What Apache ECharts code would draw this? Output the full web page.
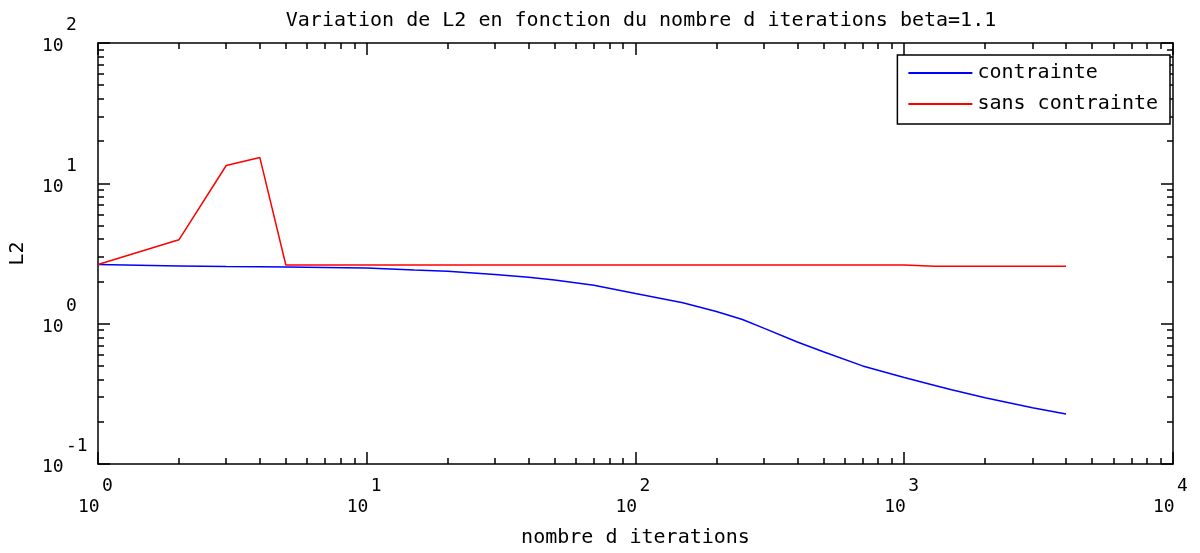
<!DOCTYPE html>
<html>
<head>
<meta charset="utf-8">
<script src="https://cdn.jsdelivr.net/npm/echarts@6/dist/echarts.min.js"></script>
<style>
  html, body { margin: 0; padding: 0; background: #fff; }
  #chart { width: 1200px; height: 553px; }
</style>
</head>
<body>
<div id="chart"></div>
<script>
// values (log-log plot)
const iterations = [1, 2, 3, 4, 5, 7, 10, 15, 20, 30, 40, 50, 70, 100, 150, 200, 250, 300, 400, 500, 700, 1000, 1300, 1500, 2000, 3000, 4000];
const l2Contrainte = [2.64, 2.58, 2.55, 2.54, 2.53, 2.51, 2.49, 2.41, 2.36, 2.24, 2.14, 2.05, 1.88, 1.64, 1.41, 1.22, 1.07, 0.93, 0.74, 0.63, 0.50, 0.414, 0.363, 0.338, 0.297, 0.252, 0.227];
const l2SansContrainte = [2.64, 3.96, 13.4, 15.3, 2.62, 2.62, 2.62, 2.62, 2.62, 2.62, 2.62, 2.62, 2.62, 2.62, 2.62, 2.62, 2.62, 2.62, 2.62, 2.62, 2.62, 2.62, 2.57, 2.57, 2.57, 2.57, 2.57];
const seriesNames = ['contrainte', 'sans contrainte'];
const seriesColors = ['#0000ff', '#ff0000'];

const FONT = 'DejaVu Sans Mono';

// minor tick positions in log10 units (2..9 in each decade)
function minorTicks(fromDecade, toDecade) {
  const out = [];
  for (let d = fromDecade; d < toDecade; d++) {
    for (let k = 2; k <= 9; k++) out.push(d + Math.log10(k));
  }
  return out;
}

const chartEntry = document.getElementById('chart');
const chart = echarts.init(chartEntry);

const tickStyle = { color: '#000', width: 1.5 };
const lineStyle = { color: '#000', width: 1.5 };

function majorLogAxis(pos, min, max) {
  return {
    type: 'log',
    logBase: 10,
    position: pos,
    min: min,
    max: max,
    interval: 1,
    axisLine: { show: true, onZero: false, lineStyle: lineStyle },
    axisTick: { show: true, inside: true, length: 12, lineStyle: tickStyle },
    splitLine: { show: false },
    minorTick: { show: false },
    axisLabel: { show: false }
  };
}

function minorValueAxis(pos, min, max) {
  return {
    type: 'value',
    position: pos,
    min: min,
    max: max,
    axisLine: { show: false, onZero: false },
    axisTick: { show: true, inside: true, length: 6, lineStyle: tickStyle, customValues: minorTicks(min, max) },
    splitLine: { show: false },
    axisLabel: { show: false }
  };
}

const xMain = majorLogAxis('bottom', 1, 10000);
xMain.name = 'nombre d iterations';
xMain.nameLocation = 'middle';
xMain.nameGap = 64;
xMain.nameMoveOverlap = false;
xMain.nameTextStyle = { fontFamily: FONT, fontSize: 20, color: '#000' };
xMain.axisLabel = {
  show: true,
  showMinLabel: true,
  showMaxLabel: true,
  margin: 12,
  color: '#000',
  formatter: (v) => '{e|' + Math.round(Math.log10(v)) + '}\n{b|10}',
  rich: {
    e: { fontFamily: FONT, fontSize: 18, color: '#000', lineHeight: 21, padding: [0, 9.2, 0, 28] },
    b: { fontFamily: FONT, fontSize: 18, color: '#000', lineHeight: 21, padding: [0, 22.3, 0, 4] }
  }
};

const yMain = majorLogAxis('left', 0.1, 100);
yMain.name = 'L2';
yMain.nameLocation = 'middle';
yMain.nameGap = 70;
yMain.nameMoveOverlap = false;
yMain.nameTextStyle = { fontFamily: FONT, fontSize: 20, color: '#000' };
yMain.axisLabel = {
  show: true,
  showMinLabel: true,
  showMaxLabel: true,
  margin: 8,
  padding: [0, 0, 14, 0],
  color: '#000',
  formatter: (v) => {
    const e = String(Math.round(Math.log10(v)));
    return '{' + (e.length > 1 ? 'e2' : 'e1') + '|' + e + '}\n{b|10}';
  },
  rich: {
    e1: { fontFamily: FONT, fontSize: 18, color: '#000', lineHeight: 21, padding: [0, 13.2, 0, 24] },
    e2: { fontFamily: FONT, fontSize: 18, color: '#000', lineHeight: 21, padding: [0, 2.3, 0, 24] },
    b: { fontFamily: FONT, fontSize: 18, color: '#000', lineHeight: 21, padding: [0, 26.3, 0, 0] }
  }
};

const chartOptions = {
  animation: false,
  backgroundColor: '#fff',
  title: {
    text: 'Variation de L2 en fonction du nombre d iterations beta=1.1',
    left: 636,
    textAlign: 'center',
    top: 6,
    textStyle: { fontFamily: FONT, fontSize: 20, fontWeight: 'normal', color: '#000' }
  },
  legend: {
    data: seriesNames,
    orient: 'vertical',
    right: 30,
    top: 55,
    padding: [8, 12, 10, 11],
    icon: 'rect',
    itemWidth: 64,
    itemHeight: 2,
    itemGap: 11,
    backgroundColor: '#fff',
    borderColor: '#000',
    borderWidth: 1.5,
    borderRadius: 0,
    textStyle: { fontFamily: FONT, fontSize: 20, lineHeight: 20, color: '#000' }
  },
  grid: {
    left: 98,
    right: 22,
    top: 43,
    bottom: 85
  },
  xAxis: [
    xMain,
    minorValueAxis('bottom', 0, 4),
    majorLogAxis('top', 1, 10000),
    minorValueAxis('top', 0, 4)
  ],
  yAxis: [
    yMain,
    minorValueAxis('left', -1, 2),
    majorLogAxis('right', 0.1, 100),
    minorValueAxis('right', -1, 2)
  ],
  series: [
    {
      name: seriesNames[0],
      type: 'line',
      xAxisIndex: 0,
      yAxisIndex: 0,
      symbol: 'none',
      color: seriesColors[0],
      lineStyle: { width: 1.5, color: seriesColors[0] },
      data: iterations.map((x, i) => [x, l2Contrainte[i]])
    },
    {
      name: seriesNames[1],
      type: 'line',
      xAxisIndex: 0,
      yAxisIndex: 0,
      symbol: 'none',
      color: seriesColors[1],
      lineStyle: { width: 1.5, color: seriesColors[1] },
      data: iterations.map((x, i) => [x, l2SansContrainte[i]])
    }
  ]
};

chart.setOption(chartOptions);
</script>
</body>
</html>
